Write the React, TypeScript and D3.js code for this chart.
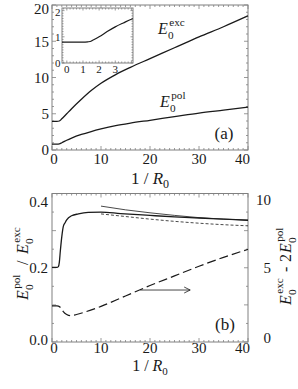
import React from 'react';
import * as d3 from 'd3';

// panel (a): ground state energies vs 1/R0
const xA = [0, 1, 1.5, 2, 3, 4, 6, 8, 10, 13, 16, 20, 25, 30, 35, 40];
const excA = [3.95, 3.95, 4.0, 4.3, 5.0, 5.7, 7.0, 8.2, 9.2, 10.4, 11.4, 12.6, 14.1, 15.6, 17.0, 18.5];
const polA = [0.82, 0.82, 0.85, 1.0, 1.35, 1.65, 2.15, 2.55, 2.9, 3.35, 3.7, 4.1, 4.6, 5.1, 5.5, 5.9];

// inset: small 1/R0
const xInset = [-0.3, 0, 0.5, 1, 1.3, 1.45, 1.6, 2, 2.5, 3, 3.5, 4, 4.1];
const polInset = [0.8, 0.8, 0.8, 0.8, 0.81, 0.82, 0.87, 1.0, 1.2, 1.38, 1.53, 1.67, 1.69];

// panel (b)
const xRatio = [0, 1, 1.3, 1.5, 1.7, 2, 2.3, 2.7, 3, 4, 5.4, 7.4, 10, 14, 20, 25, 30, 35, 40];
const ratio = [0.201, 0.201, 0.203, 0.215, 0.245, 0.284, 0.311, 0.322, 0.329, 0.34, 0.345, 0.349, 0.35, 0.346, 0.341, 0.337, 0.334, 0.331, 0.328];
const xLarge = [10, 15, 20, 25, 30, 35, 40];
const ratioThin = [0.366, 0.356, 0.348, 0.341, 0.335, 0.331, 0.328];
const ratioDash = [0.345, 0.338, 0.331, 0.325, 0.32, 0.316, 0.313];
const xDiff = [0, 1, 1.3, 1.8, 2.3, 3, 3.7, 5, 7, 10, 15, 20, 25, 30, 35, 40];
const diff = [2.43, 2.43, 2.42, 2.3, 2.05, 1.85, 1.77, 1.85, 2.05, 2.4, 3.1, 3.8, 4.45, 5.1, 5.7, 6.24];

const xTicks = [0, 10, 20, 30, 40];
const yTicksA = [0, 5, 10, 15, 20];
const yTicksB = [0, 0.2, 0.4];
const yTicksR = [0, 5, 10];
const insetXTicks = [0, 1, 2, 3];
const insetYTicks = [0, 1, 2];

const FRAME = '#808080';
const INK = '#1a1a1a';
const FONT = 'Times New Roman, Liberation Serif, DejaVu Serif, serif';

function Frame({ x, y, xs, ys, isMajorX, isMajorY, big = 4, small = 2 }: any) {
  const [x0, x1] = x.range();
  const [y0, y1] = y.range();
  const seg: string[] = [];
  xs.forEach((v: number) => {
    const px = x(v);
    const l = isMajorX(v) ? big : small;
    seg.push(`M${px},${y0}V${y0 - l}M${px},${y1}V${y1 + l}`);
  });
  ys.forEach((v: number) => {
    const py = y(v);
    const l = isMajorY(v) ? big : small;
    seg.push(`M${x0},${py}H${x0 + l}M${x1},${py}H${x1 - l}`);
  });
  return (
    <g>
      <path d={seg.join('')} stroke={FRAME} strokeWidth={0.8} fill="none" />
      <rect x={x0} y={y1} width={x1 - x0} height={y0 - y1} fill="none" stroke={FRAME} strokeWidth={1} />
    </g>
  );
}

function Sym({ x, y, sup, size = 16 }: any) {
  return (
    <g fontFamily={FONT} fill={INK}>
      <text x={x} y={y} fontSize={size} fontStyle="italic">E</text>
      <text x={x + size * 0.62} y={y + 4.5} fontSize={size * 0.7}>0</text>
      <text x={x + size * 0.7} y={y - 8} fontSize={size * 0.7}>{sup}</text>
    </g>
  );
}

const near = (v: number, step: number) => Math.abs(v / step - Math.round(v / step)) < 1e-6;

export default function App() {
  const xa = d3.scaleLinear().domain([0, 40]).range([52, 248]);
  const ya = d3.scaleLinear().domain([0, 20]).range([150, 5]);
  const xi = d3.scaleLinear().domain([-0.3, 4.1]).range([62, 133]);
  const yi = d3.scaleLinear().domain([0, 2.1]).range([63, 8]);
  const xb = d3.scaleLinear().domain([0, 40]).range([52, 248]);
  const yb = d3.scaleLinear().domain([0, 0.4]).range([342, 193.5]);
  const yr = d3.scaleLinear().domain([0, 10]).range([342, 193.5]);

  const lineA = d3.line<number>().x((_, i) => xa(xA[i])).y(d => ya(d)).curve(d3.curveMonotoneX);
  const lineI = d3.line<number>().x((_, i) => xi(xInset[i])).y(d => yi(d)).curve(d3.curveMonotoneX);
  const lineR = d3.line<number>().x((_, i) => xb(xRatio[i])).y(d => yb(d)).curve(d3.curveMonotoneX);
  const lineL = d3.line<number>().x((_, i) => xb(xLarge[i])).y(d => yb(d)).curve(d3.curveMonotoneX);
  const lineD = d3.line<number>().x((_, i) => xb(xDiff[i])).y(d => yr(d)).curve(d3.curveMonotoneX);

  const minorX = d3.range(0, 40.01, 1);
  const minorYA = d3.range(0, 20.01, 1);
  const minorYB = d3.range(0, 0.4001, 0.05);
  const insetMinorX = d3.range(-0.2, 4.1, 0.2);
  const insetMinorY = d3.range(0, 2.1, 0.1);

  const arrowY = yr(3.5);
  const ax0 = xb(18);
  const ax1 = xb(28.2);

  const tickX = (v: number, sc: any) => Math.min(Math.max(sc(v), 54), 242.5);

  return (
    <svg width={298} height={389} style={{ position: 'absolute', left: 0, top: 0, background: '#fff' }}>
      {/* panel (a) */}
      <Frame x={xa} y={ya} xs={minorX} ys={minorYA} isMajorX={(v: number) => near(v, 10)} isMajorY={(v: number) => near(v, 5)} />
      <path d={lineA(excA) || ''} fill="none" stroke={INK} strokeWidth={1.3} />
      <path d={lineA(polA) || ''} fill="none" stroke={INK} strokeWidth={1.3} />
      <g fontFamily={FONT} fontSize={15} fill={INK}>
        {yTicksA.map(v => (
          <text key={v} x={49} y={Math.max(ya(v), 9)} dy="0.35em" textAnchor="end">{v}</text>
        ))}
        {xTicks.map(v => (
          <text key={v} x={tickX(v, xa)} y={164} textAnchor="middle">{v}</text>
        ))}
        <text x={150} y={184} fontSize={17} textAnchor="middle">
          1 / <tspan fontStyle="italic">R</tspan><tspan fontSize={12} dy={4}>0</tspan>
        </text>
        <text x={224} y={139} fontSize={17} textAnchor="middle">(a)</text>
      </g>
      <Sym x={158} y={34} sup="exc" />
      <Sym x={160} y={107} sup="pol" />

      {/* inset */}
      <rect x={62} y={8} width={71} height={55} fill="#fff" />
      <clipPath id="insetClip"><rect x={62} y={8} width={71} height={55} /></clipPath>
      <Frame x={xi} y={yi} xs={insetMinorX} ys={insetMinorY} isMajorX={(v: number) => near(v, 1)} isMajorY={(v: number) => near(v, 1)} big={2.5} small={1.5} />
      <path d={lineI(polInset) || ''} fill="none" stroke={INK} strokeWidth={1.2} clipPath="url(#insetClip)" />
      <g fontFamily={FONT} fontSize={11} fill={INK}>
        {insetYTicks.map(v => (
          <text key={v} x={60.5} y={Math.max(yi(v), 12)} dy="0.35em" textAnchor="end">{v}</text>
        ))}
        {insetXTicks.map(v => (
          <text key={v} x={xi(v)} y={73} textAnchor="middle">{v}</text>
        ))}
      </g>

      {/* panel (b) */}
      <Frame x={xb} y={yb} xs={minorX} ys={minorYB} isMajorX={(v: number) => near(v, 10)} isMajorY={(v: number) => near(v, 0.1)} />
      <path d={lineR(ratio) || ''} fill="none" stroke={INK} strokeWidth={1.3} />
      <path d={lineL(ratioThin) || ''} fill="none" stroke={INK} strokeWidth={0.8} />
      <path d={lineL(ratioDash) || ''} fill="none" stroke={INK} strokeWidth={0.8} strokeDasharray="3,2" />
      <path d={lineD(diff) || ''} fill="none" stroke={INK} strokeWidth={1.2} strokeDasharray="9,4" />
      <path d={`M${ax0},${arrowY}H${ax1}M${ax1 - 6},${arrowY - 3}L${ax1},${arrowY}L${ax1 - 6},${arrowY + 3}`} fill="none" stroke={INK} strokeWidth={0.8} />
      <g fontFamily={FONT} fontSize={15} fill={INK}>
        {yTicksB.map(v => (
          <text key={v} x={48} y={Math.min(Math.max(yb(v), 202), 340)} dy="0.35em" textAnchor="end">{v.toFixed(1)}</text>
        ))}
        {yTicksR.map(v => (
          <text key={v} x={271} y={Math.min(Math.max(yr(v), 200), 337.5)} dy="0.35em" textAnchor="end">{v}</text>
        ))}
        {xTicks.map(v => (
          <text key={v} x={tickX(v, xb)} y={353} textAnchor="middle">{v}</text>
        ))}
        <text x={150} y={371} fontSize={16} textAnchor="middle">
          1 / <tspan fontStyle="italic">R</tspan><tspan fontSize={11} dy={4}>0</tspan>
        </text>
        <text x={225} y={330} fontSize={17} textAnchor="middle">(b)</text>
      </g>

      {/* rotated axis titles */}
      <g transform="translate(28,300) rotate(-90)">
        <Sym x={0} y={0} sup="pol" />
        <text x={35} y={0} fontFamily={FONT} fontSize={16} fill={INK}>/</text>
        <Sym x={46} y={0} sup="exc" />
      </g>
      <g transform="translate(291,305) rotate(-90)">
        <Sym x={0} y={0} sup="exc" />
        <text x={33} y={0} fontFamily={FONT} fontSize={16} fill={INK}>-</text>
        <text x={43} y={0} fontFamily={FONT} fontSize={16} fill={INK}>2</text>
        <Sym x={52} y={0} sup="pol" />
      </g>
    </svg>
  );
}
